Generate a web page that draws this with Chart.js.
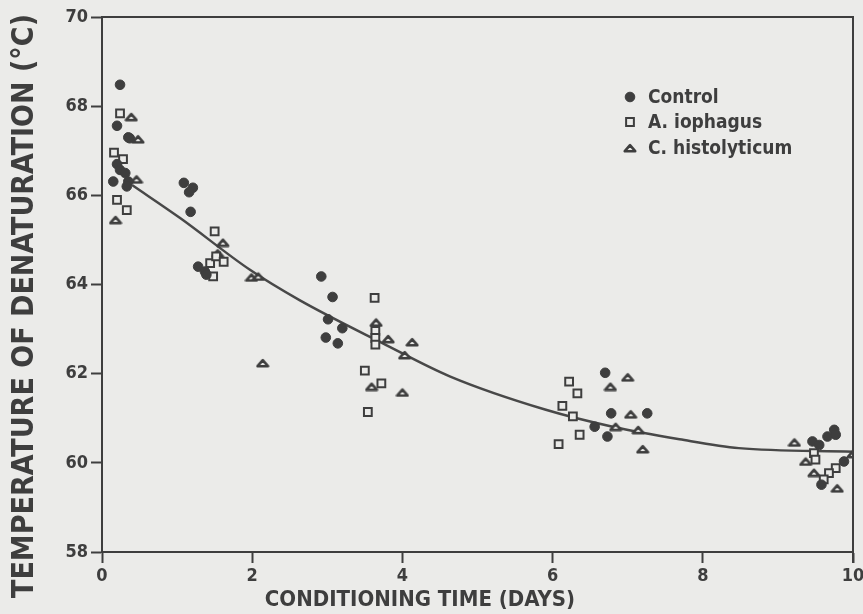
<!DOCTYPE html>
<html>
<head>
<meta charset="utf-8">
<script src="https://cdn.jsdelivr.net/npm/chart.js@4.4.1/dist/chart.umd.min.js"></script>
<style>
  html, body { margin: 0; padding: 0; background: #ebebe9; }
  canvas { display: block; }
</style>
</head>
<body>
<canvas id="chart" width="863" height="614"></canvas>
<script>
// Thermal stability of intramuscular collagen vs. conditioning time.
// Points.

const xTicks = [0, 2, 4, 6, 8, 10];
const yTicks = [58, 60, 62, 64, 66, 68, 70];

const control = [
    [0.24, 68.48], [0.20, 67.56], [0.35, 67.30], [0.37, 67.28], [0.20, 66.70],
    [0.24, 66.57], [0.31, 66.50], [0.15, 66.31], [0.35, 66.31], [0.33, 66.20],
    [1.09, 66.28], [1.21, 66.17], [1.16, 66.07], [1.18, 65.63],
    [1.28, 64.40], [1.37, 64.29], [1.39, 64.22],
    [2.92, 64.18], [3.07, 63.72], [3.01, 63.22], [3.20, 63.02], [2.98, 62.81], [3.14, 62.68],
    [6.70, 62.02], [6.78, 61.11], [7.26, 61.11], [6.56, 60.81], [6.73, 60.59],
    [9.75, 60.74], [9.66, 60.59], [9.77, 60.63], [9.46, 60.48], [9.55, 60.40],
    [9.88, 60.03], [9.58, 59.51]
];

const iophagus = [
    [0.24, 67.84], [0.16, 66.96], [0.28, 66.81], [0.20, 65.90], [0.33, 65.67],
    [1.50, 65.19],
    [1.44, 64.48], [1.52, 64.63], [1.62, 64.51], [1.48, 64.18],
    [3.63, 63.70], [3.64, 62.96], [3.64, 62.80], [3.64, 62.65], [3.50, 62.07],
    [3.72, 61.78], [3.54, 61.14],
    [6.22, 61.82], [6.33, 61.56], [6.13, 61.28], [6.27, 61.04], [6.36, 60.63], [6.08, 60.42],
    [9.48, 60.22], [9.50, 60.07], [9.77, 59.88], [9.68, 59.77], [9.61, 59.63]
];

const histolyticum = [
    [0.39, 67.76], [0.48, 67.26], [0.46, 66.36], [0.18, 65.45],
    [1.61, 64.94], [1.54, 64.70],
    [1.99, 64.16], [2.08, 64.18],
    [2.14, 62.24],
    [3.65, 63.15], [3.81, 62.78], [4.13, 62.71], [4.03, 62.42], [3.59, 61.71], [4.00, 61.58],
    [7.00, 61.92], [6.77, 61.71], [7.04, 61.09], [6.84, 60.81], [7.14, 60.74], [7.20, 60.31],
    [9.22, 60.46], [10.0, 60.20], [9.37, 60.03], [9.48, 59.78], [9.79, 59.43]
];

// fitted curve
const curve = [
    [0.40, 66.23], [1.04, 65.49], [1.97, 64.33], [2.63, 63.65], [3.74, 62.68],
    [4.63, 61.94], [5.91, 61.19], [6.80, 60.81], [7.69, 60.53], [8.48, 60.33], [10.0, 60.25]
];

const seriesNames = ['Control', 'A. iophagus', 'C. histolyticum'];
const xTitle = 'CONDITIONING TIME (DAYS)';
const yTitle = 'TEMPERATURE OF DENATURATION (\u00b0C)';

const BG = '#ebebe9';
const INK = '#3e3e3e';
const FONT = '"DejaVu Sans Condensed", "Liberation Sans Narrow", "DejaVu Sans", sans-serif';

const toPoints = arr => arr.map(p => ({ x: p[0], y: p[1] }));

// flat open triangle used as point style
function makeTriangle() {
    const c = document.createElement('canvas');
    c.width = 14;
    c.height = 10;
    const g = c.getContext('2d');
    g.beginPath();
    g.moveTo(1.8, 8.2);
    g.lineTo(12.2, 8.2);
    g.lineTo(7, 2.2);
    g.closePath();
    g.fillStyle = BG;
    g.fill();
    g.lineWidth = 2.6;
    g.strokeStyle = INK;
    g.lineJoin = 'round';
    g.stroke();
    return c;
}
const triangle = makeTriangle();

const framePlugin = {
    id: 'frame',
    beforeDraw(chart) {
        const ctx = chart.ctx;
        ctx.save();
        ctx.fillStyle = BG;
        ctx.fillRect(0, 0, chart.width, chart.height);
        ctx.restore();
    },
    afterDraw(chart) {
        const { ctx, chartArea: a } = chart;
        ctx.save();
        ctx.strokeStyle = INK;
        ctx.lineWidth = 2;
        ctx.beginPath();
        ctx.moveTo(a.left, a.top);
        ctx.lineTo(a.right, a.top);
        ctx.lineTo(a.right, a.bottom + 11);
        ctx.stroke();

        ctx.fillStyle = INK;
        ctx.textAlign = 'center';
        ctx.textBaseline = 'middle';
        ctx.font = 'bold 22px ' + FONT;
        ctx.fillText(xTitle, 420, 600);

        ctx.save();
        ctx.translate(25, 306);
        ctx.rotate(-Math.PI / 2);
        ctx.font = 'bold 30px ' + FONT;
        ctx.fillText(yTitle, 0, 0);
        ctx.restore();

        // legend
        const rows = [97, 122, 148];
        ctx.font = 'bold 19px ' + FONT;
        ctx.textAlign = 'left';
        chart.data.datasets.slice(0, 3).forEach((ds, i) => {
            ctx.fillStyle = ds.backgroundColor;
            ctx.strokeStyle = ds.borderColor;
            ctx.lineWidth = ds.borderWidth;
            Chart.helpers.drawPoint(ctx, {
                pointStyle: ds.pointStyle,
                radius: ds.pointRadius,
                borderWidth: ds.borderWidth,
                rotation: 0
            }, 630, rows[i]);
            ctx.fillStyle = INK;
            ctx.fillText(ds.label, 648, rows[i] + 1);
        });
        ctx.restore();
    }
};

const axisStyle = {
    border: { display: true, color: INK, width: 2 },
    grid: { display: true, drawOnChartArea: false, drawTicks: true, tickLength: 11, tickColor: INK, tickWidth: 2 }
};

new Chart(document.getElementById('chart').getContext('2d'), {
    type: 'scatter',
    data: {
        datasets: [
            {
                label: seriesNames[0],
                data: toPoints(control),
                pointStyle: 'circle',
                pointRadius: 4.8,
                borderWidth: 1,
                backgroundColor: INK,
                borderColor: INK
            },
            {
                label: seriesNames[1],
                data: toPoints(iophagus),
                pointStyle: 'rect',
                pointRadius: 5.5,
                borderWidth: 2,
                backgroundColor: BG,
                borderColor: INK
            },
            {
                label: seriesNames[2],
                data: toPoints(histolyticum),
                pointStyle: triangle,
                pointRadius: 6,
                borderWidth: 2,
                backgroundColor: BG,
                borderColor: INK
            },
            {
                label: 'fit',
                data: toPoints(curve),
                showLine: true,
                pointRadius: 0,
                borderColor: '#484848',
                borderWidth: 2.5,
                cubicInterpolationMode: 'monotone'
            }
        ]
    },
    options: {
        responsive: false,
        animation: false,
        layout: { padding: { top: 17, right: 10, left: 0, bottom: 0 }, autoPadding: false },
        plugins: {
            legend: { display: false },
            tooltip: { enabled: false }
        },
        scales: {
            x: {
                type: 'linear',
                min: 0,
                max: 10,
                afterBuildTicks: s => { s.ticks = xTicks.map(v => ({ value: v })); },
                afterFit: s => { s.height = 62; s.paddingLeft = 0; s.paddingRight = 0; },
                ticks: { color: INK, padding: 3, font: { family: FONT, size: 18, weight: 'bold' }, maxRotation: 0 },
                ...axisStyle
            },
            y: {
                type: 'linear',
                min: 58,
                max: 70,
                afterBuildTicks: s => { s.ticks = yTicks.map(v => ({ value: v })); },
                afterFit: s => { s.width = 102; s.paddingTop = 0; s.paddingBottom = 0; },
                ticks: { color: INK, padding: 3, font: { family: FONT, size: 18, weight: 'bold' } },
                ...axisStyle
            }
        }
    },
    plugins: [framePlugin]
});
</script>
</body>
</html>
